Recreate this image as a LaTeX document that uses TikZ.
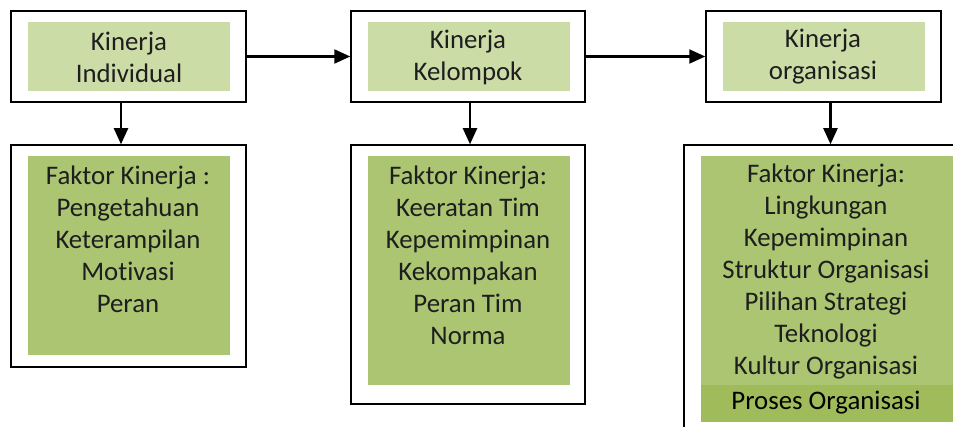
\documentclass[tikz,border=0pt]{standalone}
\usepackage{fontspec}
\setmainfont[Ligatures=NoCommon]{Carlito}
\usetikzlibrary{arrows.meta,calc}
\definecolor{topgreen}{HTML}{CCDCA7}
\definecolor{factgreen}{HTML}{ABC572}
\definecolor{bandgreen}{HTML}{A0BC5A}
\definecolor{inktext}{HTML}{1E1E1E}
\tikzset{
  frame/.style={draw=black, line width=1.5pt, fill=none, inner sep=0pt},
  label/.style={align=center, text=inktext, inner sep=0pt,
    font=\fontsize{26.8pt}{32pt}\selectfont},
  link/.style={line width=2.2pt, -{Triangle[length=16pt,width=14pt]}}
}
\begin{document}
\begin{tikzpicture}[x=1pt,y=-1pt]
\useasboundingbox (0,0) rectangle (953,427);
\clip (0,0) rectangle (953,427);
\fill[white] (0,0) rectangle (953,427);

% upper row: performance levels
\fill[topgreen] (28,22) rectangle (230,91);
\fill[topgreen] (368,22) rectangle (570,91);
\fill[topgreen] (723,22) rectangle (925,91);
\node[frame, minimum width=235pt, minimum height=91pt] (ind) at (128.5,56.5) {};
\node[frame, minimum width=234pt, minimum height=91pt] (kel) at (468,56.5) {};
\node[frame, minimum width=235pt, minimum height=91pt] (org) at (823.5,56.5) {};
\node[label] (tind) at (129,57) {Kinerja\\Individual};
\node[label] (tkel) at (468,57) {Kinerja\\Kelompok};
\node[label] (torg) at (823,57) {Kinerja\\organisasi};

% lower row: performance factors
\fill[factgreen] (28,156) rectangle (230,355);
\fill[factgreen] (368,156) rectangle (570,385);
\fill[factgreen] (701,156) rectangle (960,385);
\fill[bandgreen] (701,385) rectangle (960,422);
\node[frame, minimum width=235pt, minimum height=222pt] (find) at (128.5,256) {};
\node[frame, minimum width=234pt, minimum height=259pt] (fkel) at (468,274.5) {};
\node[frame, minimum width=300pt, minimum height=300pt] (forg) at (834,295) {};
\node[label] (lind) at (128,239) {Faktor Kinerja :\\Pengetahuan\\Keterampilan\\Motivasi\\Peran};
\node[label] (lkel) at (468,255.5) {Faktor Kinerja:\\Keeratan Tim\\Kepemimpinan\\Kekompakan\\Peran Tim\\Norma};
\node[label] (lorg) at (826,271.5) {Faktor Kinerja:\\Lingkungan\\Kepemimpinan\\Struktur Organisasi\\Pilihan Strategi\\Teknologi\\Kultur Organisasi};
\node[label, text=black] (lproc) at (826,403) {Proses Organisasi};

% connectors
\draw[link] (ind.east) -- (kel.west);
\draw[link] (kel.east) -- (org.west);
\draw[link] ([xshift=-7.5pt]ind.south) -- ([xshift=-7.5pt]ind.south |- find.north);
\draw[link] ([xshift=2pt]kel.south) -- ([xshift=2pt]kel.south |- fkel.north);
\draw[link] ([xshift=7pt]org.south) -- ([xshift=7pt]org.south |- forg.north);
\end{tikzpicture}
\end{document}
